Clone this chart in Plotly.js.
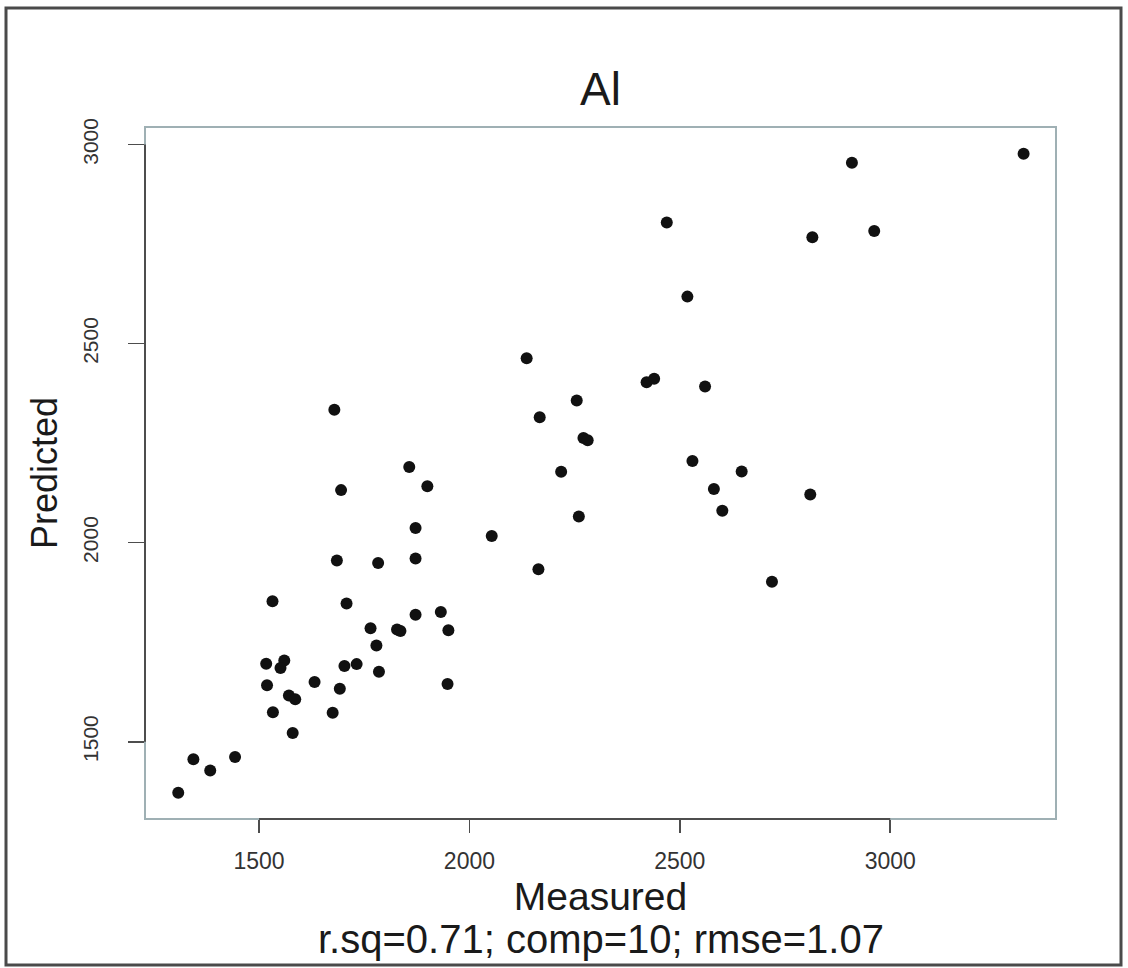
<!DOCTYPE html>
<html>
<head>
<meta charset="utf-8">
<script src="https://cdn.plot.ly/plotly-3.0.1.min.js"></script>
<style>
  html, body { margin: 0; padding: 0; background: #ffffff; }
  #chart { width: 1128px; height: 968px; }
</style>
</head>
<body>
<div id="chart"></div>
<script>
// Measured vs. predicted Al concentration
const measured = [
  1308, 1344, 1384, 1443, 1517, 1519, 1533, 1532, 1560, 1551,
  1571, 1586, 1580, 1632, 1675, 1692, 1703, 1732, 1685, 1695,
  1708, 1765, 1779, 1785, 1783, 1828, 1836, 1857, 1900, 1872,
  1872, 1872, 1932, 1950, 1948, 2053, 2164, 2218, 2260, 2271,
  2281, 1679, 2136, 2255, 2167, 3317, 2909, 2469, 2815, 2962,
  2518, 2421, 2439, 2560, 2530, 2647, 2581, 2601, 2810, 2719
];
const predicted = [
  1372, 1456, 1428, 1462, 1696, 1642, 1574, 1853, 1704, 1685,
  1616, 1607, 1522, 1650, 1573, 1633, 1690, 1695, 1955, 2132,
  1847, 1785, 1742, 1676, 1949, 1782, 1778, 2190, 2142, 2037,
  1960, 1819, 1826, 1780, 1645, 2017, 1933, 2178, 2066, 2263,
  2257, 2334, 2463, 2357, 2315, 2977, 2954, 2804, 2767, 2783,
  2618, 2403, 2412, 2392, 2205, 2179, 2135, 2080, 2121, 1902
];
const tickValues = [1500, 2000, 2500, 3000];
const tickText = ['1500', '2000', '2500', '3000'];
const chartTitle = 'Al';
const xTitle = 'Measured';
const yTitle = 'Predicted';
const fitSummary = 'r.sq=0.71; comp=10; rmse=1.07';

const FONT = 'Liberation Sans, Arial, Helvetica, sans-serif';
const INK = '#1a1a1a';
const AXIS = '#4d4d4d';
const BOX = '#9fb0b4';

const trace = {
  type: 'scatter',
  mode: 'markers',
  x: measured,
  y: predicted,
  marker: { color: '#111111', size: 12, line: { width: 0 } },
  hoverinfo: 'x+y',
  showlegend: false
};

const xFirst = tickValues[0], xLast = tickValues[tickValues.length - 1];

const layout = {
  width: 1128,
  height: 968,
  margin: { l: 145, r: 72, t: 127, b: 149 },
  paper_bgcolor: '#ffffff',
  plot_bgcolor: '#ffffff',
  font: { family: FONT, color: INK },
  title: {
    text: chartTitle,
    font: { family: FONT, size: 46, color: INK },
    x: 0.5, xref: 'paper', xanchor: 'center',
    y: 1 - 89 / 968, yref: 'container', yanchor: 'middle'
  },
  xaxis: {
    range: [1229, 3394],
    tickmode: 'array',
    tickvals: tickValues,
    ticktext: tickText,
    ticks: 'outside',
    ticklen: 13,
    tickwidth: 1.5,
    tickcolor: AXIS,
    ticklabelstandoff: 8,
    tickfont: { family: FONT, size: 23, color: '#333333' },
    showgrid: false,
    zeroline: false,
    showline: false,
    title: {
      text: xTitle,
      font: { family: FONT, size: 39, color: INK },
      standoff: 10
    }
  },
  yaxis: {
    range: [1306, 3044],
    tickmode: 'array',
    tickvals: tickValues,
    ticktext: tickText,
    ticks: 'outside',
    ticklen: 16,
    tickwidth: 1.5,
    tickcolor: AXIS,
    tickangle: -90,
    ticklabelstandoff: 22,
    tickfont: { family: FONT, size: 21, color: '#333333' },
    showgrid: false,
    zeroline: false,
    showline: false,
    title: {
      text: yTitle,
      font: { family: FONT, size: 36, color: INK },
      standoff: 9
    }
  },
  shapes: [
    // plot box
    { type: 'rect', xref: 'paper', yref: 'paper', x0: 0, x1: 1, y0: 0, y1: 1,
      line: { color: BOX, width: 2 }, layer: 'below' },
    // axis lines spanning the tick range
    { type: 'line', xref: 'x', yref: 'paper', x0: xFirst, x1: xLast, y0: 0, y1: 0,
      line: { color: AXIS, width: 2 } },
    { type: 'line', xref: 'paper', yref: 'y', x0: 0, x1: 0, y0: xFirst, y1: xLast,
      line: { color: AXIS, width: 2 } },
    // outer frame around the figure
    { type: 'rect', xref: 'paper', yref: 'paper',
      x0: (6 - 145) / 911, x1: (1121 - 145) / 911,
      y0: (819 - 965) / 692, y1: (819 - 8) / 692,
      line: { color: '#4a4a4a', width: 3 } }
  ],
  annotations: [
    { text: fitSummary, xref: 'paper', yref: 'paper', x: 0.5, xanchor: 'center',
      y: (819 - 939) / 692, yanchor: 'middle', showarrow: false,
      font: { family: FONT, size: 40, color: INK } }
  ]
};

Plotly.newPlot('chart', [trace], layout, { displayModeBar: false, staticPlot: true });
</script>
</body>
</html>
